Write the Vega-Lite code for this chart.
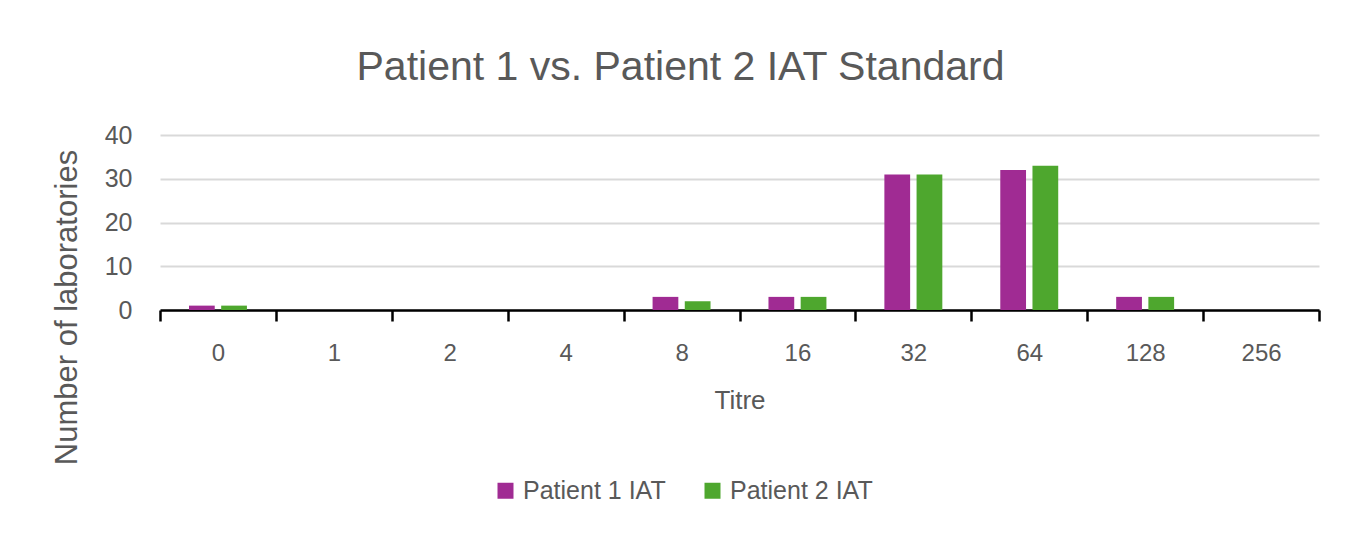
{
  "$schema": "https://vega.github.io/schema/vega-lite/v6.json",
  "autosize": "none",
  "width": 1159,
  "height": 175,
  "padding": {"left": 160, "top": 135, "right": 41, "bottom": 225},
  "background": "white",
  "title": {
    "text": "Patient 1 vs. Patient 2 IAT Standard",
    "font": "Liberation Sans",
    "fontSize": 41,
    "fontWeight": "normal",
    "color": "#595959",
    "anchor": "middle",
    "frame": "group",
    "dx": -59,
    "baseline": "alphabetic",
    "offset": 2
  },
  "data": {
    "values": [
      {"titre": "0", "series": "Patient 1 IAT", "count": 1},
      {"titre": "0", "series": "Patient 2 IAT", "count": 1},
      {"titre": "1", "series": "Patient 1 IAT", "count": 0},
      {"titre": "1", "series": "Patient 2 IAT", "count": 0},
      {"titre": "2", "series": "Patient 1 IAT", "count": 0},
      {"titre": "2", "series": "Patient 2 IAT", "count": 0},
      {"titre": "4", "series": "Patient 1 IAT", "count": 0},
      {"titre": "4", "series": "Patient 2 IAT", "count": 0},
      {"titre": "8", "series": "Patient 1 IAT", "count": 3},
      {"titre": "8", "series": "Patient 2 IAT", "count": 2},
      {"titre": "16", "series": "Patient 1 IAT", "count": 3},
      {"titre": "16", "series": "Patient 2 IAT", "count": 3},
      {"titre": "32", "series": "Patient 1 IAT", "count": 31},
      {"titre": "32", "series": "Patient 2 IAT", "count": 31},
      {"titre": "64", "series": "Patient 1 IAT", "count": 32},
      {"titre": "64", "series": "Patient 2 IAT", "count": 33},
      {"titre": "128", "series": "Patient 1 IAT", "count": 3},
      {"titre": "128", "series": "Patient 2 IAT", "count": 3},
      {"titre": "256", "series": "Patient 1 IAT", "count": 0},
      {"titre": "256", "series": "Patient 2 IAT", "count": 0}
    ]
  },
  "mark": {"type": "bar"},
  "encoding": {
    "x": {
      "field": "titre",
      "type": "ordinal",
      "sort": ["0", "1", "2", "4", "8", "16", "32", "64", "128", "256"],
      "scale": {"paddingInner": 0, "paddingOuter": 0},
      "axis": {
        "title": "Titre",
        "titleFont": "Liberation Sans",
        "titleFontSize": 26,
        "titleFontWeight": "normal",
        "titleColor": "#595959",
        "titlePadding": 22,
        "labelFont": "Liberation Sans",
        "labelFontSize": 24,
        "labelColor": "#595959",
        "labelAngle": 0,
        "labelPadding": 20,
        "domainColor": "#000000",
        "domainWidth": 2.5,
        "tickColor": "#000000",
        "tickWidth": 2.5,
        "tickSize": 11,
        "tickBand": "extent",
        "grid": false
      }
    },
    "xOffset": {
      "field": "series",
      "type": "nominal",
      "scale": {"paddingInner": 0.2, "paddingOuter": 0.9}
    },
    "y": {
      "field": "count",
      "type": "quantitative",
      "scale": {"domain": [0, 40]},
      "axis": {
        "title": "Number of laboratories",
        "titleFont": "Liberation Sans",
        "titleFontSize": 31,
        "titleFontWeight": "normal",
        "titleColor": "#595959",
        "titleX": -77,
        "titleY": 172,
        "labelFont": "Liberation Sans",
        "labelFontSize": 25,
        "labelColor": "#595959",
        "labelPadding": 28,
        "values": [0, 10, 20, 30, 40],
        "domain": false,
        "ticks": false,
        "gridColor": "#d9d9d9",
        "gridWidth": 2
      }
    },
    "color": {
      "field": "series",
      "type": "nominal",
      "scale": {"domain": ["Patient 1 IAT", "Patient 2 IAT"], "range": ["#A02B93", "#4EA72E"]},
      "legend": {
        "title": null,
        "orient": "none",
        "direction": "horizontal",
        "legendX": 333,
        "legendY": 343,
        "symbolType": "square",
        "symbolSize": 256,
        "symbolStrokeWidth": 0,
        "labelFont": "Liberation Sans",
        "labelFontSize": 25,
        "labelColor": "#595959",
        "labelOffset": 5,
        "columnPadding": 34
      }
    }
  },
  "config": {
    "view": {"stroke": null}
  }
}
